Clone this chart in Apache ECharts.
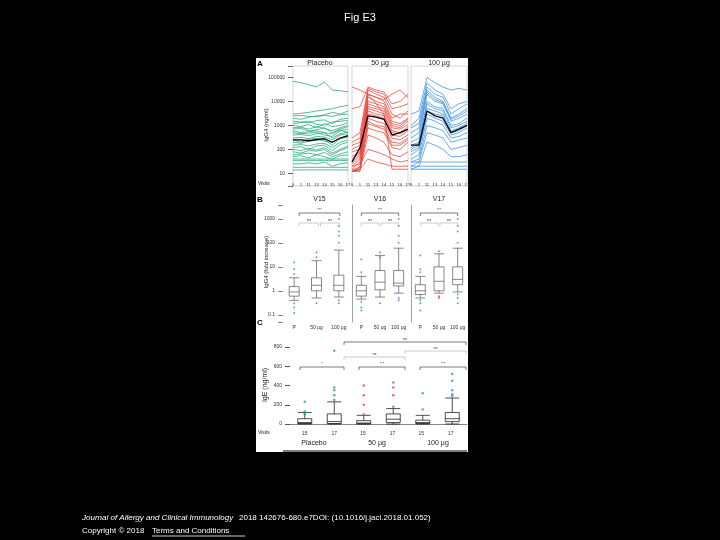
<!DOCTYPE html>
<html><head><meta charset="utf-8">
<script src="https://cdn.jsdelivr.net/npm/echarts@6/dist/echarts.min.js"></script>
<style>body{margin:0;background:#000}#c{width:720px;height:540px}</style>
</head><body><div id="c"></div>
<script>
// --- Datos panel A ---
const visits = ['0','1','11','13','14','15','16','17'];
const placeboLines = [
  [70000,60000,50000,40000,65000,30000,28000,25000],
  [3000,3200,3500,4000,4500,5000,6000,7000],
  [2500,2600,2400,2300,2800,3500,3000,4000],
  [2000,1800,2200,2500,2600,2400,2800,3000],
  [1500,1400,1300,1600,1700,1200,1800,2000],
  [1200,1300,1500,1100,1000,1400,1500,1600],
  [1000,900,1100,800,1200,900,1000,1300],
  [800,850,700,900,750,600,800,1000],
  [700,750,600,650,800,500,700,900],
  [600,500,550,600,500,450,650,500],
  [500,450,480,520,400,350,600,700],
  [400,420,380,450,500,300,450,550],
  [300,320,280,350,330,250,400,450],
  [250,200,260,300,220,200,300,350],
  [200,180,220,240,260,150,280,320],
  [150,160,140,170,180,120,200,250],
  [120,130,100,140,150,90,160,200],
  [100,90,110,95,120,70,100,140],
  [80,70,90,85,100,60,90,120],
  [60,65,70,60,75,50,65,80],
  [50,55,45,60,50,40,55,60],
  [40,40,40,40,40,40,40,40],
  [35,35,35,35,35,35,35,35],
  [25,25,28,25,30,20,25,28],
  [18,18,18,18,18,18,18,18],
  [14,14,14,14,14,14,14,14]
];
const placeboMean = [250,250,230,260,280,200,300,380];
const mg50Lines = [
  [40000,30000,20000,15000,12000,20000,30000,15000],
  [5000,6000,40000,30000,25000,8000,10000,20000],
  [300,500,35000,25000,20000,5000,6000,8000],
  [200,300,30000,20000,15000,3000,2000,4000],
  [150,200,20000,15000,10000,2000,3000,3000],
  [100,150,15000,10000,8000,1500,1200,2000],
  [80,100,10000,8000,6000,1200,1000,1800],
  [50,80,8000,6000,5000,1000,800,1500],
  [40,70,6000,5000,4000,800,700,1100],
  [30,60,5000,4000,3000,600,500,900],
  [25,50,4000,3000,2500,500,450,700],
  [20,40,3000,2500,2000,400,350,600],
  [15,30,2000,1500,1200,300,250,400],
  [12,20,1500,1000,900,200,180,300],
  [12,18,1200,900,700,150,150,250],
  [12,15,800,600,500,120,100,200],
  [12,14,400,300,200,60,50,80],
  [20,25,100,80,60,40,30,35],
  [15,15,40,30,25,20,20,20],
  [12,12,20000,8000,3000,15,15,15]
];
const mg50Mean = [30,120,2500,2200,1800,400,500,700];
const mg100Lines = [
  [3000,4000,100000,60000,40000,30000,35000,30000],
  [1000,2000,60000,30000,20000,5000,8000,10000],
  [800,1200,40000,20000,15000,3000,5000,8000],
  [500,800,30000,15000,10000,2000,3000,5000],
  [300,500,25000,12000,9000,1800,2500,4000],
  [200,300,20000,10000,8000,1500,2000,3000],
  [150,200,10000,6000,5000,1000,1200,2000],
  [120,180,8000,5000,4000,800,1000,1500],
  [100,150,5000,4000,3000,600,800,1200],
  [80,120,4000,3000,2500,500,600,1000],
  [60,100,3000,2000,1500,400,500,800],
  [40,60,2000,1500,1000,300,350,500],
  [30,40,1000,800,600,200,250,300],
  [20,30,500,400,300,100,120,150],
  [15,20,200,150,100,50,50,60],
  [30,30,30,30,30,30,30,30],
  [20,20,20,20,20,20,20,20],
  [15,15,15,15,15,15,15,15]
];
const mg100Mean = [150,150,4000,2500,2000,500,700,1000];

// --- Datos panel B ---
const doseCats = ['P','50 µg','100 µg'];
const bTitles = ['V15','V16','V17'];
const bBoxes = [
  [[0.4,0.6,0.9,1.5,3.5],[0.5,1,1.7,3.5,18],[0.55,1,1.7,4.5,50]],
  [[0.45,0.6,1,1.7,4],[0.55,1.1,2.3,7,30],[0.8,1.6,2.1,7,60]],
  [[0.5,0.7,1,1.8,4],[0.8,1,2.5,10,35],[0.9,1.8,3,10,60]]
];
const bOutliers = [
  [[0.3,0.2,0.12,5,8,15],[0.3,25,40],[0.4,0.3,100,200,300,500,1000]],
  [[0.35,0.2,0.15,6,20],[0.3,40,25],[0.5,0.4,100,200,500,1000]],
  [[0.4,0.3,0.15,6,8,30],[0.6,0.5,45],[0.7,0.5,0.3,100,300,500,1000]]
];

// --- Datos panel C ---
const cCats = ['15','17','15 ','17 ','15  ','17  '];
const cBoxes = [[0,5,15,55,120],[0,5,25,105,230],[0,3,10,35,90],[0,15,50,105,160],[0,5,15,40,90],[0,25,55,120,270]];
const cOutliers = [[130,100,110,230],[250,300,350,380,760],[100,200,300,400],[180,300,380,430],[150,320],[290,310,350,450,520]];
const groupColors = ['#1fa774','#e8433a','#3b8fe0'];

const chart = echarts.init(document.getElementById('c'));
const grids = [], xAxes = [], yAxes = [], series = [];
const ax = {fontSize: 5, color:'#333'};

// Panel A
const aX = [[293,348],[352,408],[411,467]];
const aLines = [[placeboLines,placeboMean],[mg50Lines,mg50Mean],[mg100Lines,mg100Mean]];
aX.forEach((p,i) => {
  grids.push({left:p[0], width:p[1]-p[0], top:66, height:120, show:true, borderColor:'#bbb', borderWidth:0.6});
  xAxes.push({gridIndex:i, type:'category', data:visits, boundaryGap:false,
    axisLine:{show:false}, axisTick:{show:false}, axisLabel:{fontSize:4.3, color:'#333', margin:-3, interval:0}});
  yAxes.push({gridIndex:i, type:'log', min:3, max:300000, logBase:10,
    axisLine:{show:false}, splitLine:{show:false},
    axisTick:{show:i===0, lineStyle:{color:'#666'}}, axisLabel:{show:i===0, ...ax, formatter:v => [10,100,1000,10000].includes(v)?String(v):(v===100000?'100000':'')}});
  aLines[i][0].forEach(d => series.push({type:'line', xAxisIndex:i, yAxisIndex:i, data:d, symbol:'none',
    lineStyle:{color:groupColors[i], width:0.9, opacity:0.85}, silent:true}));
  series.push({type:'line', xAxisIndex:i, yAxisIndex:i, data:aLines[i][1], symbol:'none',
    lineStyle:{color:'#000', width:1.3}, z:5});
});

// Panel B
const bX = [[283,350],[352,408],[411,467]];
bX.forEach((p,j) => {
  const k = 3 + j;
  grids.push({left:p[0], width:p[1]-p[0], top:205, height:117});
  xAxes.push({gridIndex:k, type:'category', data:doseCats, axisLine:{show:false}, axisTick:{show:false},
    axisLabel:{...ax, margin:3, interval:0}});
  yAxes.push({gridIndex:k, type:'log', min:0.05, max:3800,
    axisLine:{show:j>0, lineStyle:{color:'#888',width:0.8}}, splitLine:{show:false},
    axisTick:{show:j===0}, axisLabel:{show:j===0, ...ax, formatter:v => ({0.1:'0.1',1:'1',10:'10',100:'100',1000:'1000'})[v]||''}});
  series.push({type:'boxplot', xAxisIndex:k, yAxisIndex:k, data:bBoxes[j], boxWidth:[8,10],
    itemStyle:{color:'#fff', borderColor:'#555', borderWidth:0.7}});
  bOutliers[j].forEach((arr,c) => series.push({type:'scatter', xAxisIndex:k, yAxisIndex:k, symbolSize:2,
    data:arr.map(v => [c,v]), itemStyle:{color:groupColors[c]}}));
});

// Panel C
grids.push({left:290, width:177, top:347, height:77});
xAxes.push({gridIndex:6, type:'category', data:cCats, axisLine:{lineStyle:{color:'#888'}}, axisTick:{show:false},
  axisLabel:{...ax, margin:7, interval:0}});
yAxes.push({gridIndex:6, type:'value', min:0, max:800, interval:200,
  axisLine:{show:false}, splitLine:{show:false}, axisTick:{show:true}, axisLabel:{...ax}});
series.push({type:'boxplot', xAxisIndex:6, yAxisIndex:6, data:cBoxes, boxWidth:[10,14],
  itemStyle:{color:'#fff', borderColor:'#222', borderWidth:0.8}});
cOutliers.forEach((arr,c) => series.push({type:'scatter', xAxisIndex:6, yAxisIndex:6, symbolSize:2.5,
  data:arr.map(v => [c,v]), itemStyle:{color:groupColors[Math.floor(c/2)]}}));

// Anotaciones (corchetes de significancia)
const br = (x1,x2,y,t,col) => [
  {type:'polyline', shape:{points:[[x1,y+3],[x1,y],[x2,y],[x2,y+3]]}, style:{stroke:col||'#222', lineWidth:0.6, fill:null}},
  {type:'text', x:(x1+x2)/2, y:y-5, style:{text:t, fontSize:4, fill:'#333', textAlign:'center'}}
];
const gfx = [
  {type:'rect', shape:{x:256,y:58,width:212,height:394}, style:{fill:'#fff'}, z:-10},
  {type:'text', x:360, y:12, style:{text:'Fig E3', fill:'#fff', fontSize:11, textAlign:'center', fontFamily:'Liberation Sans'}},
  {type:'text', x:82, y:514, style:{text:'Journal of Allergy and Clinical Immunology', fill:'#fff', fontSize:8, fontStyle:'italic', fontFamily:'Liberation Sans'}},
  {type:'text', x:239, y:514, style:{text:'2018 142676-680.e7DOI: (10.1016/j.jaci.2018.01.052)', fill:'#fff', fontSize:8, fontFamily:'Liberation Sans'}},
  {type:'text', x:82, y:527, style:{text:'Copyright © 2018 ', fill:'#fff', fontSize:8, fontFamily:'Liberation Sans'}},
  {type:'text', x:152, y:527, style:{text:'Terms and Conditions', fill:'#fff', fontSize:8, fontFamily:'Liberation Sans'}},
  {type:'line', shape:{x1:152,y1:536,x2:245,y2:536}, style:{stroke:'#fff', lineWidth:0.8}},
  {type:'text', x:257, y:60, style:{text:'A', fontSize:8, fontWeight:'bold', fill:'#000'}},
  {type:'text', x:257, y:196, style:{text:'B', fontSize:8, fontWeight:'bold', fill:'#000'}},
  {type:'text', x:257, y:319, style:{text:'C', fontSize:8, fontWeight:'bold', fill:'#000'}},
  {type:'text', x:320, y:60, style:{text:'Placebo', fontSize:7, fill:'#222', textAlign:'center'}},
  {type:'text', x:380, y:60, style:{text:'50 µg', fontSize:7, fill:'#222', textAlign:'center'}},
  {type:'text', x:439, y:60, style:{text:'100 µg', fontSize:7, fill:'#222', textAlign:'center'}},
  {type:'text', x:258, y:181, style:{text:'Visits', fontSize:5, fill:'#222'}},
  {type:'text', x:258, y:430, style:{text:'Visits', fontSize:5, fill:'#222'}},
  {type:'text', x:263, y:125, rotation:Math.PI/2, style:{text:'IgG4 (ng/ml)', fontSize:6, fill:'#222', textAlign:'center'}},
  {type:'text', x:263, y:262, rotation:Math.PI/2, style:{text:'IgG4 (fold increase)', fontSize:6, fill:'#222', textAlign:'center'}},
  {type:'text', x:262, y:385, rotation:Math.PI/2, style:{text:'IgE (ng/ml)', fontSize:7, fill:'#222', textAlign:'center'}},
  {type:'text', x:314, y:440, style:{text:'Placebo', fontSize:7, fill:'#222', textAlign:'center'}},
  {type:'text', x:377, y:440, style:{text:'50 µg', fontSize:7, fill:'#222', textAlign:'center'}},
  {type:'text', x:438, y:440, style:{text:'100 µg', fontSize:7, fill:'#222', textAlign:'center'}},
  {type:'line', shape:{x1:283,y1:451,x2:467,y2:451}, style:{stroke:'#000', lineWidth:1}}
];
bTitles.forEach((t,j) => {
  const p = bX[j], w = p[1]-p[0], x0 = j===0 ? p[0]+6 : p[0];
  const ww = j===0 ? w-6 : w;
  gfx.push({type:'text', x:p[0]+w/2+(j===0?3:0), y:196, style:{text:t, fontSize:7, fill:'#222', textAlign:'center'}});
  gfx.push(...br(x0+ww/6, x0+ww*5/6, 213, '***'));
  gfx.push(...br(x0+ww/6, x0+ww/2-1, 223, 'ns', '#aaa'));
  gfx.push(...br(x0+ww/2+1, x0+ww*5/6, 223, 'ns', '#aaa'));
});
gfx.push(...br(300,344,367,'*'), ...br(359,405,367,'***'), ...br(420,466,367,'***'),
  ...br(344,405,357,'ns','#aaa'), ...br(405,466,351,'ns','#aaa'), ...br(344,466,342,'ns'));

chart.setOption({
  backgroundColor:'#000', animation:false,
  textStyle:{fontFamily:'Liberation Sans'},
  grid:grids, xAxis:xAxes, yAxis:yAxes, series:series, graphic:gfx
});
</script></body></html>
